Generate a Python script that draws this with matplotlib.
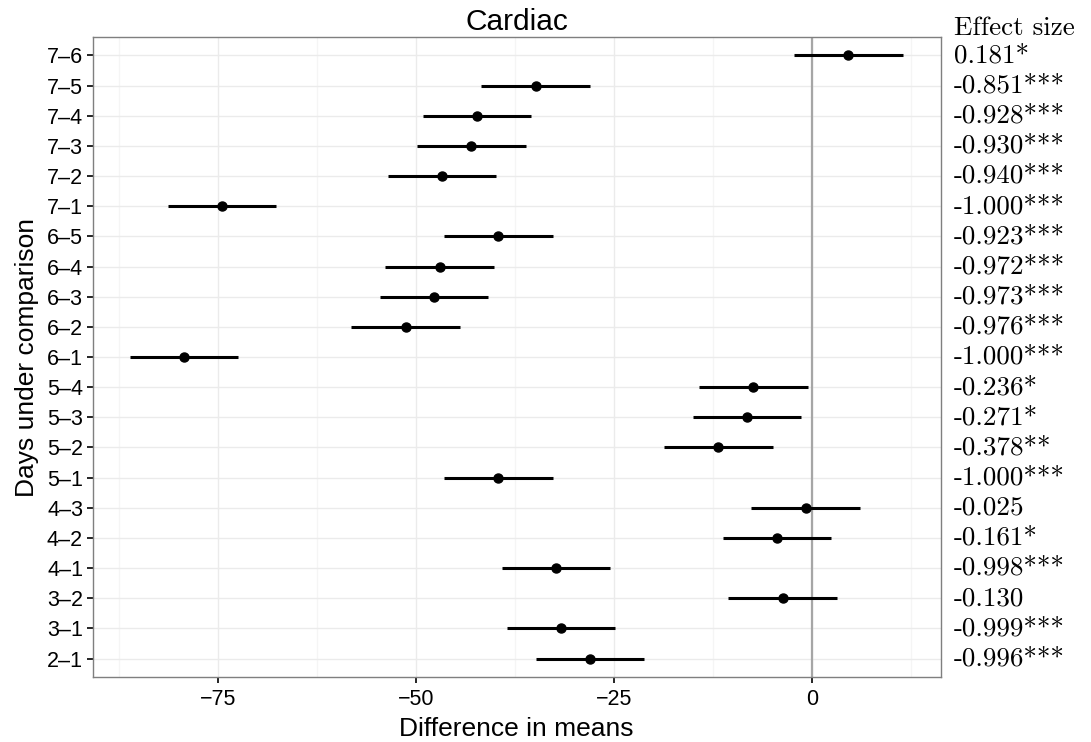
import numpy as np
import matplotlib.pyplot as plt

plt.rcParams['font.family'] = ['Liberation Sans', 'DejaVu Sans']

# Tukey comparisons, listed bottom to top
pairs = ['2–1', '3–1', '3–2', '4–1', '4–2', '4–3', '5–1', '5–2', '5–3', '5–4',
         '6–1', '6–2', '6–3', '6–4', '6–5', '7–1', '7–2', '7–3', '7–4', '7–5', '7–6']
diff = [-28.0, -31.7, -3.7, -32.3, -4.4, -0.8, -39.6, -11.8, -8.2, -7.4,
        -79.3, -51.3, -47.7, -47.0, -39.6, -74.5, -46.7, -43.0, -42.3, -34.9, 4.6]
lwr = [-34.85, -38.55, -10.55, -39.15, -11.25, -7.65, -46.45, -18.65, -15.05, -14.25,
       -86.15, -58.15, -54.55, -53.85, -46.45, -81.35, -53.55, -49.85, -49.15, -41.75, -2.25]
upr = [-21.15, -24.85, 3.15, -25.45, 2.45, 6.05, -32.75, -4.95, -1.35, -0.55,
       -72.45, -44.45, -40.85, -40.15, -32.75, -67.65, -39.85, -36.15, -35.45, -28.05, 11.45]
effect = ['-0.996***', '-0.999***', '-0.130', '-0.998***', '-0.161*', '-0.025',
          '-1.000***', '-0.378**', '-0.271*', '-0.236*',
          '-1.000***', '-0.976***', '-0.973***', '-0.972***', '-0.923***',
          '-1.000***', '-0.940***', '-0.930***', '-0.928***', '-0.851***', '0.181*']

ypos = np.arange(1, len(pairs) + 1)

fig = plt.figure(figsize=(10.91, 7.42), dpi=100)
ax = fig.add_axes([0.085, 0.088, 0.7772, 0.8617])

ax.set_xlim(-90.8, 16.25)
ax.set_ylim(0.4, len(pairs) + 0.6)

# theme_bw style grid
ax.set_xticks([-75, -50, -25, 0])
ax.set_xticks([-87.5, -62.5, -37.5, -12.5, 12.5], minor=True)
ax.set_yticks(ypos)
ax.set_yticklabels(pairs)
ax.grid(True, which='major', color='#EBEBEB', lw=1.0)
ax.grid(True, which='minor', axis='x', color='#F5F5F5', lw=1.0)
ax.set_axisbelow(True)
for s in ax.spines.values():
    s.set_color('#7F7F7F')
    s.set_linewidth(1.0)
ax.tick_params(which='major', length=4, width=1.2, color='black', labelsize=15.5,
               labelcolor='black', pad=3)
ax.tick_params(axis='x', pad=5)
ax.tick_params(which='minor', length=0)
ax.set_xticklabels(['−75', '−50', '−25', '0'])

ax.axvline(0, color='#A6A6A6', lw=1.6, zorder=1)
ax.hlines(ypos, lwr, upr, color='black', lw=2.2, zorder=3)
ax.plot(diff, ypos, 'o', color='black', ms=6.5, zorder=4)

ax.set_title('Cardiac', fontsize=21.5, pad=5)
ax.set_xlabel('Difference in means', fontsize=19, labelpad=5)
ax.set_ylabel('Days under comparison', fontsize=19, labelpad=6)

# effect sizes in the right margin
cm = ['cmr10', 'DejaVu Serif']
for y, lab in zip(ypos, effect):
    ax.text(1.016, y, lab, transform=ax.get_yaxis_transform(), ha='left', va='center',
            fontsize=19.5, family=cm)
ax.text(1.016, len(pairs) + 0.9, 'Effect size', transform=ax.get_yaxis_transform(),
        ha='left', va='center', fontsize=19.5, family=cm, clip_on=False)

fig.savefig('out.png', dpi=100)
